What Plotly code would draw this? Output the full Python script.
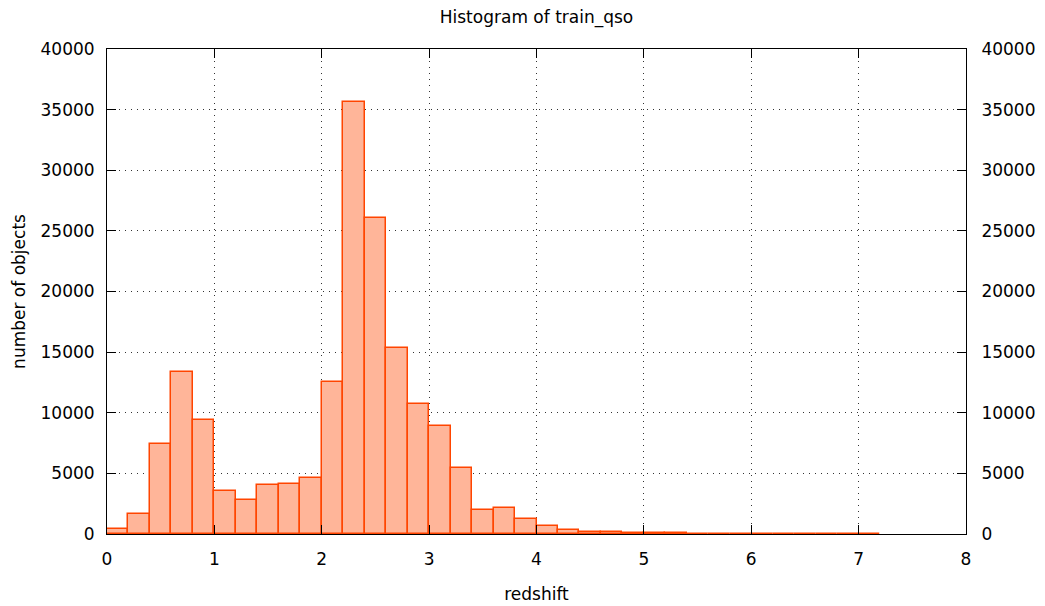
import plotly.graph_objects as go

# bin left edges (redshift), bin width 0.2
bin_left = [0.0, 0.2, 0.4, 0.6, 0.8, 1.0, 1.2, 1.4, 1.6, 1.8,
            2.0, 2.2, 2.4, 2.6, 2.8, 3.0, 3.2, 3.4, 3.6, 3.8,
            4.0, 4.2, 4.4, 4.6, 4.8, 5.0, 5.2, 5.4, 5.6, 5.8,
            6.0, 6.2, 6.4, 6.6, 6.8, 7.0]
bin_width = 0.2
counts = [400, 1670, 7420, 13330, 9400, 3550, 2830, 4010, 4120, 4620,
          12510, 35630, 26060, 15340, 10700, 8910, 5420, 1950, 2120, 1240,
          630, 300, 190, 140, 100, 70, 50, 40, 40, 30,
          30, 20, 30, 20, 30, 20]

x_ticks = [0, 1, 2, 3, 4, 5, 6, 7, 8]
y_ticks = [0, 5000, 10000, 15000, 20000, 25000, 30000, 35000, 40000]

FONT = "DejaVu Sans"
fsize = 17

# page body has an 8px margin, so the figure starts at (8, 8) in the window
W, H = 1037, 598

fig = go.Figure()
fig.add_trace(go.Bar(
    x=bin_left, y=counts, width=[bin_width] * len(bin_left), offset=0,
    marker=dict(color="#FFB599", line=dict(color="#FF4500", width=1.5)),
    showlegend=False, hoverinfo="x+y",
))
fig.add_trace(go.Scatter(x=[None], y=[None], yaxis="y2", showlegend=False,
                         hoverinfo="skip"))

axis_common = dict(
    showline=True, linecolor="black", linewidth=1,
    ticks="inside", ticklen=9, tickcolor="black", tickwidth=1,
    tickfont=dict(family=FONT, size=fsize, color="black"),
    zeroline=False, automargin=False,
)
grid_style = dict(showgrid=True, gridcolor="#333333", griddash="1px,5px",
                  gridwidth=1.2)

fig.update_layout(
    width=W, height=H,
    paper_bgcolor="white", plot_bgcolor="white",
    margin=dict(l=99, r=79, t=41, b=72, autoexpand=False),
    bargap=0,
    font=dict(family=FONT, size=fsize, color="black"),
    title=dict(text="Histogram of train_qso", xref="paper", x=0.5,
               xanchor="center", yref="container", y=1 - 3 / H,
               yanchor="top", pad=dict(t=0, b=0), automargin=False,
               font=dict(family=FONT, size=fsize, color="black")),
    xaxis=dict(
        range=[0, 8], tickvals=x_ticks, ticktext=[str(v) for v in x_ticks],
        mirror="ticks", ticklabelstandoff=10,
        title=dict(text="redshift", standoff=19,
                   font=dict(family=FONT, size=fsize, color="black")),
        **grid_style, **axis_common,
    ),
    yaxis=dict(
        range=[0, 40000], tickvals=y_ticks, ticktext=[str(v) for v in y_ticks],
        mirror="ticks", ticklabelstandoff=8,
        title=dict(text="number of objects", standoff=10,
                   font=dict(family=FONT, size=fsize, color="black")),
        **grid_style, **axis_common,
    ),
    yaxis2=dict(
        overlaying="y", side="right", range=[0, 40000],
        tickvals=y_ticks, ticktext=[str(v) for v in y_ticks],
        showgrid=False, ticklabelstandoff=11,
        **axis_common,
    ),
)

fig.write_html("out.html")
